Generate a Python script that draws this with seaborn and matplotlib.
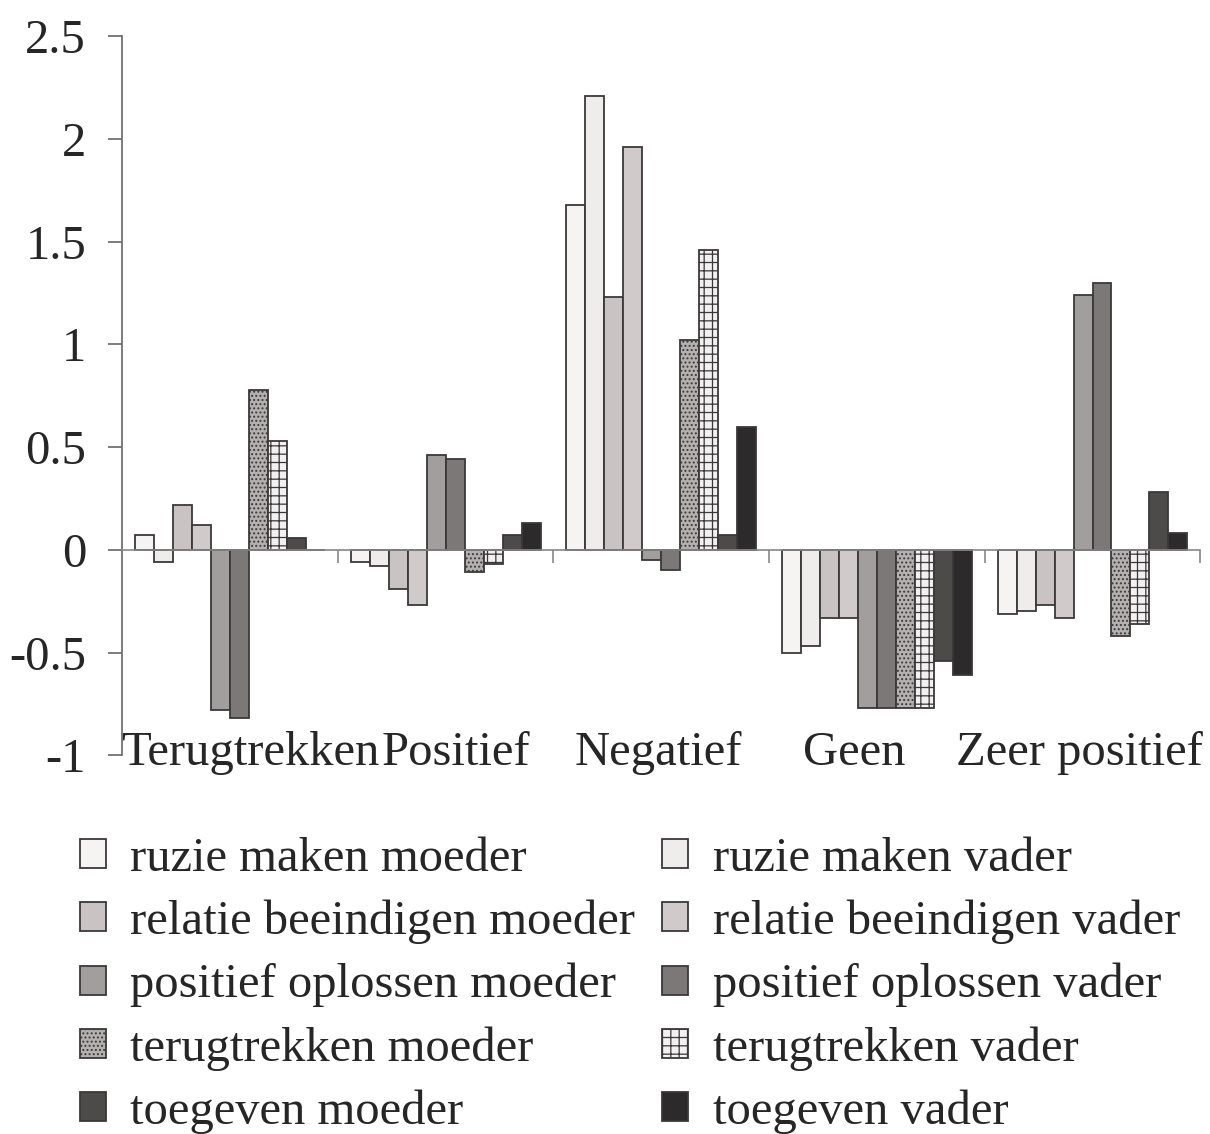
import matplotlib
matplotlib.use("Agg")
import matplotlib.pyplot as plt
import seaborn as sns
import pandas as pd
from matplotlib.ticker import FuncFormatter

categories = ["Terugtrekken", "Positief", "Negatief", "Geen", "Zeer positief"]
series = [
    "ruzie maken moeder", "ruzie maken vader",
    "relatie beeindigen moeder", "relatie beeindigen vader",
    "positief oplossen moeder", "positief oplossen vader",
    "terugtrekken moeder", "terugtrekken vader",
    "toegeven moeder", "toegeven vader",
]
ruzie_moeder = [0.07, -0.06, 1.68, -0.50, -0.31]
ruzie_vader = [-0.06, -0.08, 2.21, -0.47, -0.30]
relatie_moeder = [0.22, -0.19, 1.23, -0.33, -0.27]
relatie_vader = [0.12, -0.27, 1.96, -0.33, -0.33]
positief_moeder = [-0.78, 0.46, -0.05, -0.77, 1.24]
positief_vader = [-0.82, 0.44, -0.10, -0.77, 1.30]
terugtrekken_moeder = [0.78, -0.11, 1.02, -0.77, -0.42]
terugtrekken_vader = [0.53, -0.07, 1.46, -0.77, -0.36]
toegeven_moeder = [0.06, 0.07, 0.07, -0.54, 0.28]
toegeven_vader = [0.00, 0.13, 0.60, -0.61, 0.08]

values = [ruzie_moeder, ruzie_vader, relatie_moeder, relatie_vader,
          positief_moeder, positief_vader, terugtrekken_moeder,
          terugtrekken_vader, toegeven_moeder, toegeven_vader]

colors = ["#f6f4f3", "#efedec", "#c9c4c3", "#d0cbca", "#a29e9d",
          "#7b7877", "#b3b0af", "#f2f0f0", "#4d4a4a", "#2c2a2a"]
hatches = [None, None, None, None, None, None, "....", "++", None, None]
# horizontal nudges of the category labels (in category widths)
label_shift = [0.093, 0.046, -0.014, -0.107, -0.06]

rows = []
for s, vals in zip(series, values):
    for c, v in zip(categories, vals):
        rows.append({"cat": c, "series": s, "value": v})
df = pd.DataFrame(rows)

sns.set_style("white")
plt.rcParams["font.family"] = ["Liberation Serif", "DejaVu Serif"]
plt.rcParams["axes.unicode_minus"] = False
plt.rcParams["hatch.linewidth"] = 0.9

FS = 35

fig = plt.figure(figsize=(12.1, 11.34), dpi=100)
ax = fig.add_axes([0.101, 0.334, 0.891, 0.634])

sns.barplot(data=df, x="cat", y="value", hue="series", order=categories,
            hue_order=series, palette=colors, width=0.88, ax=ax,
            legend=False, edgecolor="#3a3838", linewidth=1.3, saturation=1)

for cont, h in zip(ax.containers, hatches):
    for p in cont.patches:
        if h:
            p.set_hatch(h)

ax.set_ylim(-1, 2.5)
ax.set_xlim(-0.5, 4.5)
ax.set_yticks([-1, -0.5, 0, 0.5, 1, 1.5, 2, 2.5])
ax.yaxis.set_major_formatter(FuncFormatter(lambda v, p: f"{v:g}"))
ax.tick_params(axis="y", labelsize=FS, length=10, width=1.2, color="#666666",
               direction="out", left=True, pad=16)
ax.set_xlabel("")
ax.set_ylabel("")

for s in ["top", "right"]:
    ax.spines[s].set_visible(False)
ax.spines["left"].set_color("#666666")
ax.spines["left"].set_linewidth(1.2)
ax.spines["bottom"].set_position(("data", 0))
ax.spines["bottom"].set_color("#888888")
ax.spines["bottom"].set_linewidth(1.2)
ax.set_xticks([0.5, 1.5, 2.5, 3.5, 4.5])
ax.set_xticklabels([])
ax.tick_params(axis="x", length=9, width=1.2, color="#888888", direction="out",
               bottom=True)

for i, c in enumerate(categories):
    ax.text(i + label_shift[i], -0.99, c, ha="center", va="center", fontsize=FS)

handles = list(ax.containers)
order = [0, 2, 4, 6, 8, 1, 3, 5, 7, 9]
fig.legend([handles[i] for i in order], [series[i] for i in order],
           loc="upper left", bbox_to_anchor=(0.066, 0.262), ncol=2,
           frameon=False, fontsize=FS, handlelength=0.54, handleheight=0.54,
           handletextpad=0.5, labelspacing=0.385, columnspacing=0.55,
           borderaxespad=0, borderpad=0)

fig.savefig("out.png", dpi=100)
